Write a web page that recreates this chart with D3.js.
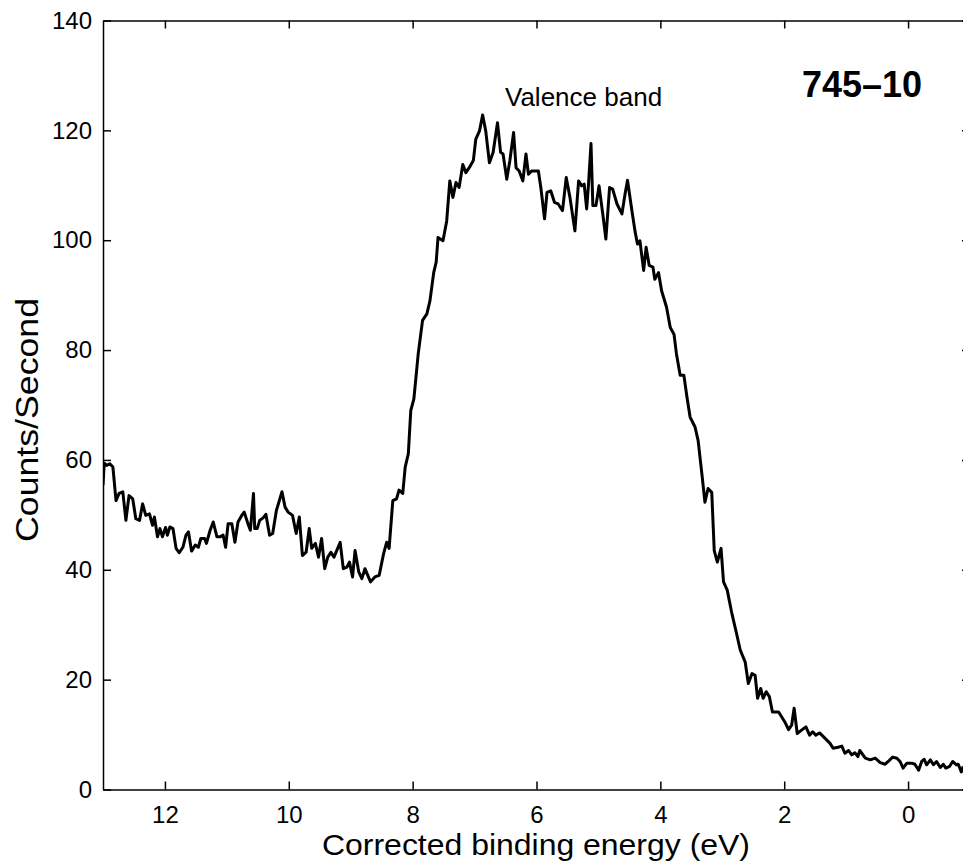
<!DOCTYPE html>
<html lang="en">
<meta charset="utf-8" />
<style>
    body { margin: 0; background: #fff; }
    svg { font-family: "Liberation Sans", Arial, Helvetica, sans-serif; }
    .axis path, .axis line { stroke: #000; stroke-width: 1.5px; }
    .axis text { font-size: 24px; fill: #000; }
</style>
<body>
<svg width="963" height="865"></svg>
<script src="https://d3js.org/d3.v7.min.js"></script>
<script>
    // binding energy (eV)
    var energy = [
        13.00, 12.98, 12.94, 12.89, 12.84, 12.79, 12.74, 12.68, 12.63, 12.58, 12.52, 12.47, 12.41, 12.36,
        12.31, 12.25, 12.20, 12.17, 12.12, 12.08, 12.04, 11.99, 11.96, 11.92, 11.87, 11.82, 11.77, 11.71,
        11.66, 11.62, 11.57, 11.51, 11.46, 11.42, 11.36, 11.33, 11.27, 11.22, 11.16, 11.11, 11.06, 11.02,
        10.98, 10.92, 10.87, 10.82, 10.76, 10.72, 10.66, 10.62, 10.57, 10.55, 10.51, 10.47, 10.41, 10.37,
        10.31, 10.26, 10.20, 10.11, 10.06, 10.01, 9.94, 9.88, 9.83,
        9.78, 9.72, 9.67, 9.63, 9.57, 9.52, 9.47, 9.42, 9.37, 9.32, 9.27, 9.17, 9.12, 9.06, 9.02, 8.97,
        8.93, 8.87, 8.82, 8.77, 8.68, 8.61, 8.54, 8.47, 8.42, 8.38, 8.32, 8.26, 8.22, 8.16, 8.12, 8.07,
        8.03, 7.98, 7.91, 7.84, 7.77, 7.72, 7.66, 7.62, 7.59, 7.51, 7.45, 7.40,
        7.35, 7.30, 7.25, 7.19, 7.14, 7.07, 7.02, 6.98, 6.92, 6.87, 6.82, 6.76, 6.70, 6.63, 6.58, 6.54,
        6.48, 6.43, 6.37, 6.33, 6.28, 6.22, 6.17, 6.13, 6.08, 6.02, 5.97, 5.93, 5.87, 5.83, 5.77, 5.71,
        5.65, 5.58, 5.52, 5.46, 5.38, 5.32, 5.27, 5.23, 5.19, 5.16, 5.12, 5.09, 5.04, 4.99, 4.93, 4.88,
        4.82, 4.77, 4.70, 4.62, 4.57, 4.53, 4.46, 4.41, 4.37, 4.33,
        4.27, 4.23, 4.18, 4.12, 4.09, 4.03, 3.98, 3.90, 3.84, 3.78, 3.74, 3.68, 3.62, 3.57, 3.52, 3.44,
        3.39, 3.33, 3.28, 3.23, 3.17, 3.13, 3.08, 3.02, 2.98, 2.92, 2.85, 2.77, 2.71, 2.63, 2.58, 2.52,
        2.47, 2.43, 2.38,
        2.34, 2.29, 2.24, 2.19, 2.09, 2.04, 1.99, 1.93, 1.88, 1.84, 1.79, 1.72, 1.65, 1.59, 1.54, 1.49,
        1.43, 1.34, 1.26, 1.21, 1.13, 1.07, 1.02, 0.96, 0.91, 0.86, 0.81, 0.78, 0.69, 0.61, 0.53, 0.45,
        0.37, 0.32, 0.25, 0.18, 0.13, 0.08, 0.02, -0.06, -0.11, -0.17, -0.22, -0.26, -0.30, -0.36, -0.41,
        -0.46, -0.52, -0.57, -0.61, -0.67, -0.72, -0.78, -0.81, -0.86, -0.89
    ]

    // counts per second at each energy
    var counts = [
        55.4, 59.4, 59.0, 59.3, 58.7, 52.6, 53.9, 54.2, 49.0, 53.5, 52.9, 49.3, 49.0, 52.0,
        49.9, 50.2, 48.1, 49.6, 46.0, 47.5, 46.0, 47.7, 46.3, 47.8, 47.5, 43.9, 43.1, 44.1,
        46.3, 46.9, 43.4, 44.5, 44.1, 45.7, 45.7, 44.8, 47.2, 48.7, 46.0, 46.0, 46.3, 44.1,
        48.4, 48.4, 45.0, 48.7, 49.9, 50.5, 48.4, 47.2, 53.9, 47.5, 47.5, 49.0, 49.5, 50.1,
        46.3, 46.6, 50.8, 54.2, 51.4, 50.5, 49.9, 46.6, 49.6,
        42.6, 43.2, 47.5, 43.9, 44.8, 42.3, 45.7, 40.2, 42.3, 43.2, 42.3, 45.0, 40.2, 40.5, 41.4, 38.7,
        43.5, 39.6, 38.4, 40.2, 37.8, 38.7, 39.0, 42.9, 45.0, 43.9, 52.6, 52.9, 54.5, 53.9, 58.7, 61.1,
        69.0, 71.1, 79.3, 85.4, 86.6, 89.0, 94.1, 96.0, 100.5, 99.9, 103.5, 110.8,
        107.8, 110.5, 109.6, 113.8, 112.3, 113.5, 114.5, 118.4, 119.9, 122.8, 119.9, 114.1, 116.0, 121.4, 116.0, 115.7,
        111.1, 114.5, 119.6, 113.2, 112.6, 110.8, 115.7, 112.0, 112.6, 112.6, 112.6, 109.6, 103.9, 108.7, 109.0, 106.9,
        106.6, 105.4, 111.4, 107.8, 101.7, 110.8, 109.9, 110.2, 105.7, 110.2, 117.6, 106.3, 106.3, 109.9, 104.8, 100.2,
        109.6, 109.3, 106.6, 104.8, 108.4, 110.9, 105.4, 101.7, 99.3, 99.9,
        94.5, 98.7, 95.4, 95.1, 92.9, 94.1, 90.8, 87.8, 84.1, 82.9, 79.3, 75.4, 75.4, 71.4, 67.8, 66.0,
        63.5, 57.5, 52.3, 54.8, 54.1, 43.5, 41.4, 43.9, 37.8, 36.3, 32.3, 28.4, 25.4, 23.2, 19.3, 21.1,
        20.8, 16.6, 18.4,
        16.6, 17.8, 16.9, 14.1, 14.1, 13.2, 12.3, 10.9, 11.7, 14.8, 10.2, 10.8, 11.4, 9.9, 10.5, 9.9,
        10.3, 9.3, 8.4, 7.5, 7.7, 7.9, 6.6, 7.1, 6.3, 6.7, 6.0, 7.1, 5.7, 5.4, 5.7, 4.9,
        4.6, 5.1, 5.9, 5.7, 5.1, 3.9, 4.8, 4.8, 4.6, 3.5, 5.1, 5.5, 4.5, 5.4, 4.5,
        5.1, 4.0, 4.6, 3.9, 4.2, 5.1, 4.5, 4.6, 3.2, 4.2
    ]

    var xTicks = [12, 10, 8, 6, 4, 2, 0]
    var yTicks = [0, 20, 40, 60, 80, 100, 120, 140]

    var svg = d3.select("svg")
    var margin = { left: 103, top: 20.5, right: 970, bottom: 789.5 }

    var x = d3.scaleLinear()
        .domain([13, -1])
        .range([margin.left, margin.right])
    var y = d3.scaleLinear()
        .domain([0, 140])
        .range([margin.bottom, margin.top])

    var clip = svg.append("clipPath").attr("id", "plot")
    clip.append("rect")
        .attr("x", margin.left)
        .attr("y", margin.top)
        .attr("width", margin.right - margin.left)
        .attr("height", margin.bottom - margin.top)

    var points = energy.map((e, i) => [e, counts[i]])

    var line = d3.line()
        .x(d => x(d[0]))
        .y(d => y(d[1]))

    svg.append("path")
        .datum(points)
        .attr("clip-path", "url(#plot)")
        .attr("d", line)
        .attr("fill", "none")
        .attr("stroke", "#000")
        .attr("stroke-width", 3)
        .attr("stroke-linejoin", "round")

    // bottom + top axes, ticks point inwards
    svg.append("g")
        .attr("class", "axis")
        .attr("transform", "translate(0," + margin.bottom + ")")
        .call(d3.axisBottom(x).tickValues(xTicks).tickSize(-8).tickPadding(16).tickSizeOuter(0))
    svg.append("g")
        .attr("class", "axis")
        .attr("transform", "translate(0," + margin.top + ")")
        .call(d3.axisTop(x).tickValues(xTicks).tickSize(-8).tickFormat("").tickSizeOuter(0))

    // left + right axes
    svg.append("g")
        .attr("class", "axis")
        .attr("transform", "translate(" + margin.left + ",0)")
        .call(d3.axisLeft(y).tickValues(yTicks).tickSize(-8).tickPadding(11).tickSizeOuter(0))
    svg.append("g")
        .attr("class", "axis")
        .attr("transform", "translate(" + margin.right + ",0)")
        .call(d3.axisRight(y).tickValues(yTicks).tickSize(-8).tickFormat("").tickSizeOuter(0))

    svg.append("text")
        .text("Corrected binding energy (eV)")
        .attr("x", 536)
        .attr("y", 855)
        .attr("text-anchor", "middle")
        .attr("font-size", 30)
        .attr("textLength", 428)
        .attr("lengthAdjust", "spacingAndGlyphs")

    svg.append("text")
        .text("Counts/Second")
        .attr("transform", "translate(38,420) rotate(-90)")
        .attr("text-anchor", "middle")
        .attr("font-size", 32)
        .attr("textLength", 244)
        .attr("lengthAdjust", "spacingAndGlyphs")

    svg.append("text")
        .text("Valence band")
        .attr("x", 505)
        .attr("y", 106)
        .attr("font-size", 26)

    svg.append("text")
        .text("745\u201310")
        .attr("x", 802)
        .attr("y", 97)
        .attr("font-size", 36)
        .attr("font-weight", "bold")
</script>
</body>
</html>
